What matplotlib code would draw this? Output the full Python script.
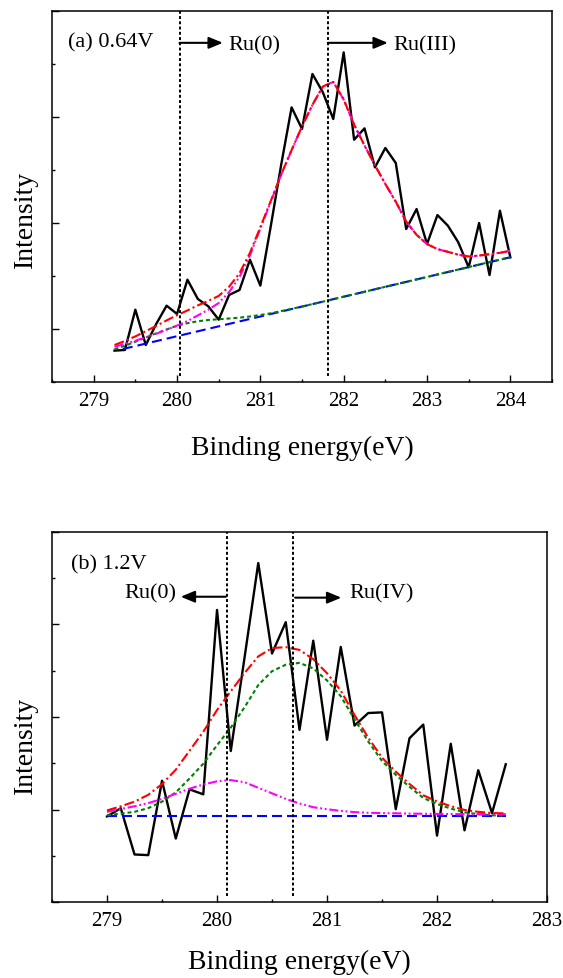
import numpy as np
import matplotlib
matplotlib.use("Agg")
import matplotlib.pyplot as plt
from matplotlib.ticker import MultipleLocator

plt.rcParams['font.family'] = ['Liberation Serif', 'DejaVu Serif']

# ---- panel (a) 0.64 V ----
# measured spectrum, 0.125 eV steps from 279.25 to 284.0 eV
a_energy = np.linspace(279.25, 284.0, 39)
a_counts = [0.796, 0.802, 1.182, 0.849, 1.047, 1.220, 1.142, 1.465, 1.283, 1.214,
            1.088, 1.321, 1.368, 1.654, 1.409, 1.970, 2.550, 3.091, 2.887, 3.406,
            3.233, 2.981, 3.610, 2.786, 2.893, 2.525, 2.708, 2.566, 1.943, 2.132,
            1.802, 2.075, 1.975, 1.818, 1.582, 2.000, 1.509, 2.116, 1.676]
# fitted curves on the same energy grid
a_envelope = [0.849, 0.887, 0.930, 0.979, 1.029, 1.081, 1.130, 1.175, 1.223, 1.265,
              1.312, 1.399, 1.527, 1.718, 1.962, 2.208, 2.459, 2.688, 2.911, 3.115,
              3.288, 3.331, 3.165, 2.928, 2.731, 2.545, 2.368, 2.201, 2.014, 1.888,
              1.801, 1.754, 1.728, 1.701, 1.684, 1.693, 1.706, 1.719, 1.737]
a_ru3 = [0.832, 0.860, 0.889, 0.922, 0.955, 0.993, 1.032, 1.075, 1.128, 1.182,
         1.245, 1.348, 1.492, 1.695, 1.948, 2.201, 2.455, 2.688, 2.911, 3.115,
         3.288, 3.331, 3.165, 2.928, 2.731, 2.545, 2.368, 2.201, 2.014, 1.888,
         1.801, 1.754, 1.728, 1.701, 1.684, 1.693, 1.706, 1.719, 1.737]
a_ru0 = [0.809, 0.842, 0.880, 0.919, 0.959, 0.996, 1.030, 1.055, 1.073, 1.085,
         1.092, 1.099, 1.107, 1.118, 1.132, 1.148, 1.169, 1.190, 1.212, 1.235,
         1.258, 1.281, 1.305, 1.328, 1.351, 1.375, 1.398, 1.421, 1.444, 1.468,
         1.491, 1.514, 1.538, 1.561, 1.584, 1.608, 1.631, 1.654, 1.677]
a_bg_x = [279.35, 281.0, 282.5, 284.0]
a_bg_y = [0.811, 1.118, 1.398, 1.677]
a_marks = [280.03, 281.81]

# ---- panel (b) 1.2 V ----
b_energy = np.linspace(279.0, 282.625, 30)
b_counts = [0.925, 1.014, 0.514, 0.507, 1.311, 0.686, 1.218, 1.164, 3.157, 1.632,
            2.640, 3.664, 2.686, 3.025, 1.861, 2.825, 1.754, 2.757, 1.907, 2.043,
            2.050, 1.004, 1.771, 1.918, 0.718, 1.711, 0.775, 1.425, 0.961, 1.489]
b_envelope = [0.990, 1.035, 1.085, 1.159, 1.275, 1.430, 1.635, 1.840, 2.075, 2.278,
              2.475, 2.655, 2.745, 2.755, 2.725, 2.625, 2.473, 2.285, 2.022, 1.775,
              1.561, 1.409, 1.276, 1.154, 1.087, 1.036, 0.995, 0.975, 0.962, 0.958]
b_ru4 = [0.940, 0.955, 0.975, 1.015, 1.085, 1.185, 1.335, 1.495, 1.695, 1.885,
         2.105, 2.345, 2.495, 2.565, 2.585, 2.525, 2.395, 2.225, 1.975, 1.735,
         1.525, 1.375, 1.245, 1.125, 1.060, 1.010, 0.970, 0.950, 0.937, 0.933]
b_ru0 = [0.975, 1.005, 1.035, 1.069, 1.115, 1.170, 1.225, 1.270, 1.305, 1.318,
         1.295, 1.235, 1.175, 1.115, 1.065, 1.025, 1.003, 0.985, 0.972, 0.965,
         0.961, 0.959, 0.956, 0.954, 0.952, 0.951, 0.950, 0.950, 0.950, 0.950]
b_bg_x = [279.0, 282.625]
b_bg_y = [0.925, 0.925]
b_marks = [280.09, 280.69]

fig = plt.figure(figsize=(5.63, 9.79), dpi=100)
ax1 = fig.add_axes([0.0924, 0.6088, 0.8881, 0.3789])
ax2 = fig.add_axes([0.0924, 0.0776, 0.8792, 0.3780])

lw_fit = 1.5
for ax, ex, cnt, env, main, small, bgx, bgy, ly in [
        (ax1, a_energy, a_counts, a_envelope, a_ru3, a_ru0, a_bg_x, a_bg_y, 0.44),
        (ax2, b_energy, b_counts, b_envelope, b_ru0, b_ru4, b_bg_x, b_bg_y, 0.425)]:
    ax.plot(ex, cnt, color='black', lw=1.7, zorder=2)
    ax.plot(bgx, bgy, color='#0000ff', lw=lw_fit, ls=(0, (4.8, 2.4)), zorder=3)
    ax.plot(ex, small, color='#008000', lw=lw_fit, ls=(0, (1.9, 1.4)), zorder=4)
    ax.plot(ex, main, color='#ff00ff', lw=lw_fit, ls=(0, (4.4, 1.3, 0.9, 1.3, 0.9, 1.3)), zorder=5)
    ax.plot(ex, env, color='#ff0000', lw=lw_fit, ls=(0, (4.8, 1.5, 1.0, 1.5)), zorder=6)

    ax.xaxis.set_major_locator(MultipleLocator(1))
    ax.xaxis.set_minor_locator(MultipleLocator(0.5))
    ax.yaxis.set_major_locator(MultipleLocator(1))
    ax.yaxis.set_minor_locator(MultipleLocator(0.5))
    ax.tick_params(which='both', direction='in', top=False, right=False, width=1.0)
    ax.tick_params(which='major', length=5)
    ax.tick_params(which='minor', length=2.5)
    ax.tick_params(axis='x', labelsize=15)
    ax.tick_params(axis='y', labelleft=False)
    for s in ax.spines.values():
        s.set_linewidth(1.1)
    ax.set_ylabel('Intensity', fontsize=20)
    ax.yaxis.set_label_coords(-0.028, ly)

# panel (a) frame and notes
ax1.set_xlim(278.5, 284.5)
ax1.set_ylim(0.5, 4.0)
ax1.tick_params(axis='x', pad=6.5)
ax1.set_xlabel('Binding energy(eV)', fontsize=20, labelpad=18)
for m in a_marks:
    ax1.plot([m, m], [0.56, 4.0], color='black', lw=1.4, ls=(0, (1.5, 1.2)), zorder=7)
ax1.text(278.69, 3.71, '(a) 0.64V', fontsize=16, va='center', ha='left')
arr = dict(arrowstyle='-|>,head_length=0.6,head_width=0.25', color='black',
           lw=1.5, mutation_scale=14, shrinkA=0, shrinkB=0)
ax1.annotate('', xy=(280.55, 3.70), xytext=(280.03, 3.70), arrowprops=arr)
ax1.text(280.62, 3.68, 'Ru(0)', fontsize=16, va='center', ha='left')
ax1.annotate('', xy=(282.53, 3.70), xytext=(281.81, 3.70), arrowprops=arr)
ax1.text(282.60, 3.68, 'Ru(III)', fontsize=16, va='center', ha='left')

# panel (b) frame and notes
ax2.set_xlim(278.5, 283.0)
ax2.set_ylim(0.0, 4.0)
ax2.tick_params(axis='x', pad=6.5)
ax2.set_xlabel('Binding energy(eV)', fontsize=20, labelpad=13.5)
for m in b_marks:
    ax2.plot([m, m], [0.068, 4.0], color='black', lw=1.4, ls=(0, (1.5, 1.2)), zorder=7)
ax2.text(278.67, 3.66, '(b) 1.2V', fontsize=16, va='center', ha='left')
ax2.annotate('', xy=(279.67, 3.30), xytext=(280.08, 3.30), arrowprops=arr)
ax2.text(279.63, 3.34, 'Ru(0)', fontsize=16, va='center', ha='right')
ax2.annotate('', xy=(281.13, 3.29), xytext=(280.71, 3.29), arrowprops=arr)
ax2.text(281.20, 3.34, 'Ru(IV)', fontsize=16, va='center', ha='left')

fig.savefig('out.png', dpi=100)
